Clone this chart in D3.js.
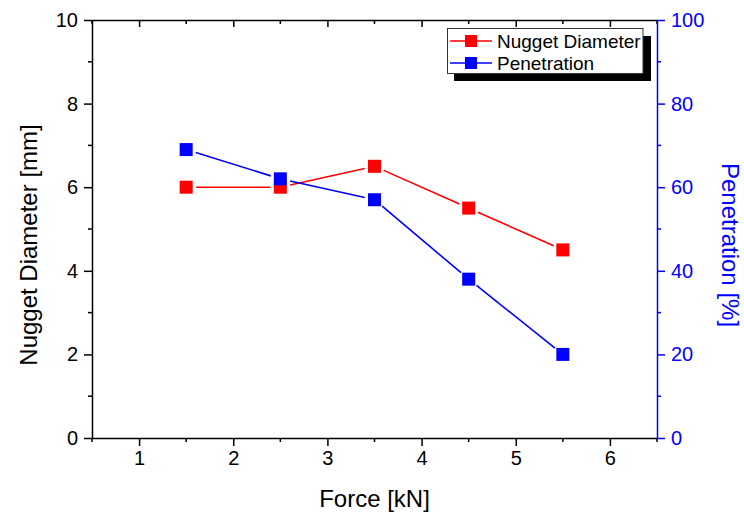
<!DOCTYPE html>
<html><head><meta charset="utf-8">
<script src="https://cdn.jsdelivr.net/npm/d3@7"></script>
<style>body{margin:0;background:#fff;} svg{display:block;font-family:"Liberation Sans",Arial,sans-serif;}</style>
</head><body>
<script>
const forces = [1.5, 2.5, 3.5, 4.5, 5.5];
const nuggetDiameter = [6, 6, 6.5, 5.5, 4.5];
const penetration = [69, 62, 57, 38, 20];
const xTicks = [1, 2, 3, 4, 5, 6];
const yLeftTicks = [0, 2, 4, 6, 8, 10];
const yRightTicks = [0, 20, 40, 60, 80, 100];
const seriesNames = ["Nugget Diameter", "Penetration"];

const W = 744, H = 516;
const L = 92, R = 657, T = 20, B = 438;
const FONT = "'Liberation Sans', Arial, sans-serif";
const svg = d3.select("body").append("svg").attr("width", W).attr("height", H);

const x = d3.scaleLinear().domain([0.5, 6.5]).range([L, R]);
const yL = d3.scaleLinear().domain([0, 10]).range([B, T]);
const yR = d3.scaleLinear().domain([0, 100]).range([B, T]);

const red = "#ff0000", blue = "#0000ff";
const halfTicks = d3.range(0.5, 6.51, 0.5).filter(v => !Number.isInteger(v));

// bottom axis
const gB = svg.append("g").attr("transform", `translate(0,${B})`)
  .call(d3.axisBottom(x).tickValues(xTicks).tickFormat(d3.format("d")).tickSizeInner(8).tickSizeOuter(0).tickPadding(5));
gB.append("g").selectAll("line").data(halfTicks)
  .join("line").attr("x1", d => x(d)).attr("x2", d => x(d)).attr("y1", 0).attr("y2", 4).attr("stroke", "#000").attr("stroke-width", 1.5);
// top axis (inward ticks, no labels)
const gT = svg.append("g").attr("transform", `translate(0,${T})`)
  .call(d3.axisBottom(x).tickValues(xTicks).tickFormat("").tickSizeInner(7).tickSizeOuter(0));
gT.append("g").selectAll("line").data(halfTicks)
  .join("line").attr("x1", d => x(d)).attr("x2", d => x(d)).attr("y1", 0).attr("y2", 4).attr("stroke", "#000").attr("stroke-width", 1.5);
// left axis
const gL = svg.append("g").attr("transform", `translate(${L},0)`)
  .call(d3.axisLeft(yL).tickValues(yLeftTicks).tickFormat(d3.format("d")).tickSizeInner(8).tickSizeOuter(0).tickPadding(6));
gL.append("g").selectAll("line").data([1, 3, 5, 7, 9])
  .join("line").attr("y1", d => yL(d)).attr("y2", d => yL(d)).attr("x1", 0).attr("x2", -4).attr("stroke", "#000").attr("stroke-width", 1.5);
// right axis
const gR = svg.append("g").attr("transform", `translate(${R},0)`)
  .call(d3.axisRight(yR).tickValues(yRightTicks).tickFormat(d3.format("d")).tickSizeInner(8).tickSizeOuter(0).tickPadding(6));
gR.append("g").selectAll("line").data([10, 30, 50, 70, 90])
  .join("line").attr("y1", d => yR(d)).attr("y2", d => yR(d)).attr("x1", 0).attr("x2", 4).attr("stroke", blue).attr("stroke-width", 1.5);

[gB, gT, gL].forEach(g => {
  g.selectAll(".domain").attr("stroke", "#000").attr("stroke-width", 1.5);
  g.selectAll(".tick line").attr("stroke", "#000").attr("stroke-width", 1.5);
  g.selectAll("text").attr("font-size", 20).attr("fill", "#000").attr("font-family", FONT);
});
gR.selectAll(".domain").attr("stroke", blue).attr("stroke-width", 1.5);
gR.selectAll(".tick line").attr("stroke", blue).attr("stroke-width", 1.5);
gR.selectAll("text").attr("font-size", 20).attr("fill", blue).attr("font-family", FONT);

// axis titles
svg.append("text").attr("x", (L + R) / 2).attr("y", 507).attr("text-anchor", "middle")
  .attr("font-size", 24).text("Force [kN]");
svg.append("text").attr("transform", `translate(37,245) rotate(-90)`).attr("text-anchor", "middle")
  .attr("font-size", 24).text("Nugget Diameter [mm]");
svg.append("text").attr("transform", `translate(722,245) rotate(90)`).attr("text-anchor", "middle")
  .attr("font-size", 24).attr("fill", blue).text("Penetration [%]");

// series with gaps around markers
const MS = 13, GAP = 10;
function drawSeries(xs, ys, yScale, color) {
  const pts = xs.map((v, i) => [x(v), yScale(ys[i])]);
  const g = svg.append("g");
  for (let i = 0; i < pts.length - 1; i++) {
    const [x1, y1] = pts[i], [x2, y2] = pts[i + 1];
    const dx = x2 - x1, dy = y2 - y1, len = Math.hypot(dx, dy);
    const ux = dx / len, uy = dy / len;
    g.append("line").attr("x1", x1 + ux * GAP).attr("y1", y1 + uy * GAP)
      .attr("x2", x2 - ux * GAP).attr("y2", y2 - uy * GAP)
      .attr("stroke", color).attr("stroke-width", 1.6);
  }
  g.selectAll("rect").data(pts).join("rect")
    .attr("x", d => d[0] - MS / 2).attr("y", d => d[1] - MS / 2)
    .attr("width", MS).attr("height", MS).attr("fill", color);
}
drawSeries(forces, nuggetDiameter, yL, red);
drawSeries(forces, penetration, yR, blue);

// legend
const lg = svg.append("g");
lg.append("rect").attr("x", 454).attr("y", 36).attr("width", 197).attr("height", 45).attr("fill", "#000");
lg.append("rect").attr("x", 447.5).attr("y", 28.5).attr("width", 195.5).attr("height", 45).attr("fill", "#fff").attr("stroke", "#333").attr("stroke-width", 1);
const legColors = [red, blue];
seriesNames.forEach((name, i) => {
  const cy = 41 + i * 22;
  lg.append("line").attr("x1", 450).attr("x2", 492).attr("y1", cy).attr("y2", cy).attr("stroke", legColors[i]).attr("stroke-width", 1.6);
  lg.append("rect").attr("x", 465).attr("y", cy - 6).attr("width", 12).attr("height", 12).attr("fill", legColors[i]);
  lg.append("text").attr("x", 497).attr("y", cy + 6.5).attr("font-size", 19).text(name);
});
</script>
</body></html>
